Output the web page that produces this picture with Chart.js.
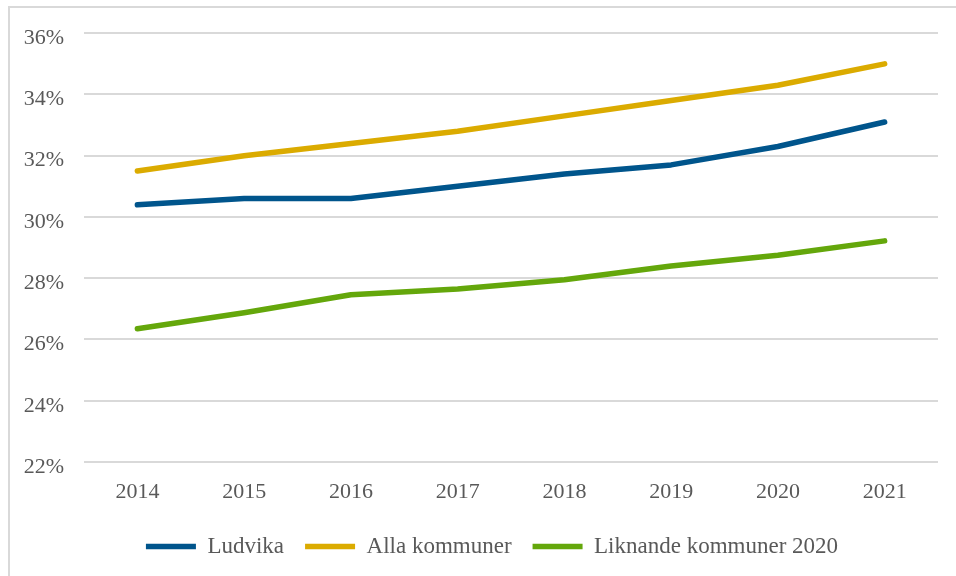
<!DOCTYPE html>
<html>
<head>
<meta charset="utf-8">
<script src="https://cdn.jsdelivr.net/npm/chart.js@4"></script>
<style>
  html, body { margin: 0; padding: 0; background: #ffffff; }
  #frame { position: absolute; left: 8px; top: 6px; width: 980px; height: 600px; border: 2px solid #d9d9d9; box-sizing: border-box; }
  #wrap { position: absolute; left: 0; top: 0; width: 956px; height: 576px; }
</style>
</head>
<body>
<div id="frame"></div>
<div id="wrap"><canvas id="c" width="956" height="576"></canvas></div>
<script>
const years = ["2014", "2015", "2016", "2017", "2018", "2019", "2020", "2021"];
const ludvika = [30.4, 30.6, 30.6, 31.0, 31.4, 31.7, 32.3, 33.1];
const allaKommuner = [31.5, 32.0, 32.4, 32.8, 33.3, 33.8, 34.3, 35.0];
const liknandeKommuner = [26.35, 26.87, 27.46, 27.65, 27.95, 28.4, 28.75, 29.22];
const seriesNames = ["Ludvika", "Alla kommuner", "Liknande kommuner 2020"];
const yMin = 22, yMax = 36, yStep = 2;

const FONT = "'Liberation Serif', 'Times New Roman', serif";
const TEXT = "#595959";

function ds(label, data, color) {
  return {
    label, data,
    borderColor: color, backgroundColor: color,
    borderWidth: 5.5, borderCapStyle: 'round', borderJoinStyle: 'round',
    pointRadius: 0, pointHoverRadius: 0, tension: 0, fill: false,
    pointStyle: 'line'
  };
}

// shift the centred legend a little to the right, as in the reference
const legendShift = {
  id: 'legendShift',
  afterLayout(chart) {
    if (chart.legend) { chart.legend.left += 23; chart.legend.right += 23; }
  }
};

new Chart(document.getElementById('c'), {
  type: 'line',
  data: {
    labels: years,
    datasets: [
      ds(seriesNames[0], ludvika, '#00558c'),
      ds(seriesNames[1], allaKommuner, '#dbab00'),
      ds(seriesNames[2], liknandeKommuner, '#64a70b')
    ]
  },
  plugins: [legendShift],
  options: {
    responsive: false,
    animation: false,
    devicePixelRatio: 1,
    layout: { padding: { left: 0, right: 18, top: 33, bottom: 8 } },
    scales: {
      x: {
        offset: true,
        grid: { display: false, drawTicks: false },
        border: { display: false },
        ticks: { color: TEXT, font: { family: FONT, size: 22 }, padding: 17, maxRotation: 0 },
        afterFit: (s) => { s.height = 52; }
      },
      y: {
        min: yMin, max: yMax,
        grid: { color: '#d9d9d9', lineWidth: 2, drawTicks: false },
        border: { display: false },
        ticks: { stepSize: yStep, color: TEXT, font: { family: FONT, size: 22 }, padding: 20,
                 labelOffset: 5, callback: (v) => v + '%' },
        afterFit: (s) => { s.width = 84; }
      }
    },
    plugins: {
      tooltip: { enabled: false },
      legend: {
        position: 'bottom',
        labels: {
          usePointStyle: true, pointStyle: 'line', pointStyleWidth: 50,
          boxWidth: 50, boxHeight: 23,
          color: TEXT, font: { family: FONT, size: 23 }, padding: 21
        }
      }
    }
  }
});
</script>
</body>
</html>
